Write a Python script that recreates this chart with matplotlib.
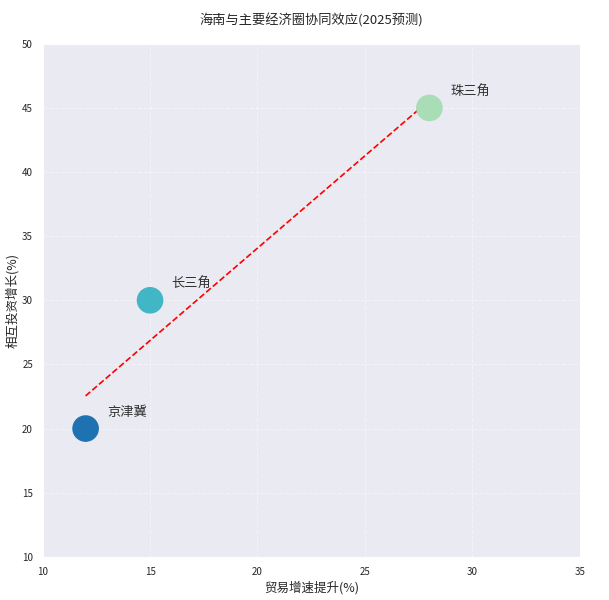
import numpy as np
import matplotlib
matplotlib.use("Agg")
import matplotlib.pyplot as plt
import seaborn as sns

regions = ["京津冀", "长三角", "珠三角"]
trade_growth = [12, 15, 28]
invest_growth = [20, 30, 45]
colors = ["#1f72b1", "#41b6c4", "#a8ddb5"]

sns.set_style("darkgrid", {"grid.linestyle": "--"})
plt.rcParams['font.family'] = ['Noto Sans CJK SC', 'DejaVu Sans']
plt.rcParams['axes.unicode_minus'] = False

fig, ax = plt.subplots(figsize=(6.09, 6.0), dpi=100)
ax.grid(True, linestyle="--", alpha=0.45)
ax.scatter(trade_growth, invest_growth, s=330, c=colors, zorder=3)
for r, x, y in zip(regions, trade_growth, invest_growth):
    ax.text(x + 1, y + 1.25, r, fontsize=9.5, va="center", ha="left", color="#333333")

coef = np.polyfit(trade_growth, invest_growth, 1)
xs = np.array([min(trade_growth), max(trade_growth)])
ax.plot(xs, np.polyval(coef, xs), "r--", linewidth=1.2, zorder=2)

ax.set_xlim(10, 35)
ax.set_ylim(10, 50)
ax.set_xlabel("贸易增速提升(%)", fontsize=9, labelpad=3)
ax.set_ylabel("相互投资增长(%)", fontsize=9, labelpad=2)
ax.set_title("海南与主要经济圈协同效应(2025预测)", fontsize=9.5, pad=14)
ax.tick_params(labelsize=7)
fig.subplots_adjust(left=0.07, right=0.952, top=0.927, bottom=0.072)
fig.savefig("out.png", dpi=100)
